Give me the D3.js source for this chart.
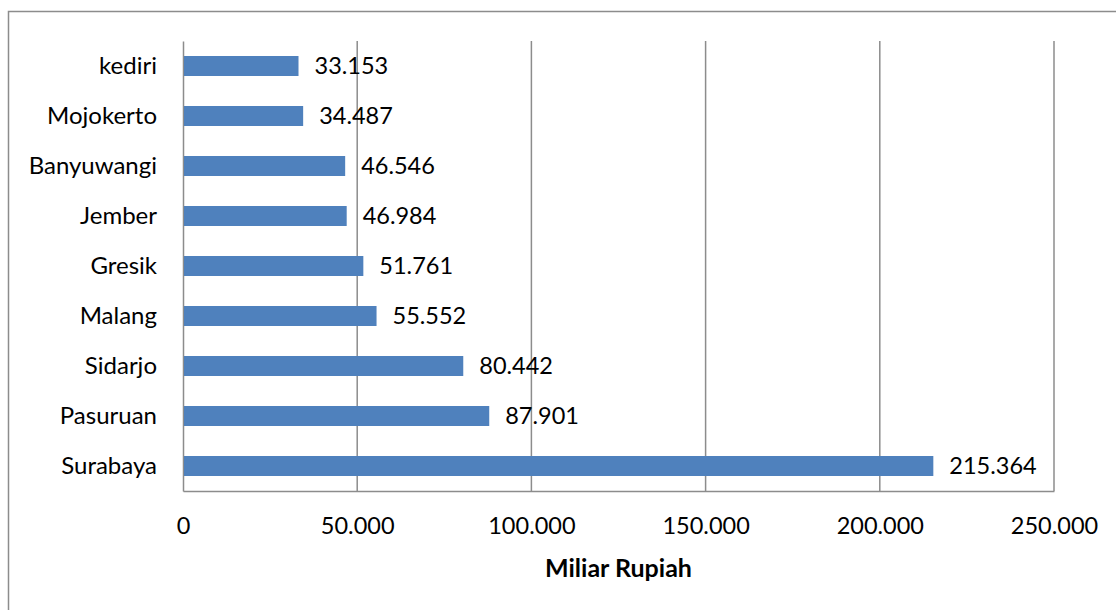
<!DOCTYPE html>
<html>
<head>
<meta charset="utf-8">
<script src="https://cdn.jsdelivr.net/npm/d3@7"></script>
<style>
  body { margin: 0; background: #fff; }
  text { font-family: Lato, "Open Sans", sans-serif; fill: #000; }
</style>
</head>
<body>
<div id="chart"></div>
<script>
// data
var cities = ["kediri", "Mojokerto", "Banyuwangi", "Jember", "Gresik", "Malang", "Sidarjo", "Pasuruan", "Surabaya"];
var values = [33153, 34487, 46546, 46984, 51761, 55552, 80442, 87901, 215364];
var tickValues = [0, 50000, 100000, 150000, 200000, 250000];
var tickLabels = ["0", "50.000", "100.000", "150.000", "200.000", "250.000"];

var W = 1116, H = 610;
var margin = {top: 41, left: 183, right: 62, bottom: 119};
var width = W - margin.left - margin.right,
    height = H - margin.top - margin.bottom;

var svg = d3.select("#chart")
  .append("svg")
    .attr("width", W)
    .attr("height", H);

// outer frame of the chart object
svg.append("rect")
  .attr("x", 8.5).attr("y", 11.5)
  .attr("width", W + 10).attr("height", H + 10)
  .attr("fill", "none")
  .attr("stroke", "#8c8c8c")
  .attr("stroke-width", 1.5);

var g = svg.append("g")
  .attr("transform", "translate(" + margin.left + "," + margin.top + ")");

var x = d3.scaleLinear()
  .domain([0, 250000])
  .range([0, width]);

var y = d3.scaleBand()
  .domain(cities)
  .range([0, height])
  .paddingInner(0.6)
  .paddingOuter(0.3);

// vertical gridlines
g.append("g")
  .selectAll("line")
  .data(tickValues.slice(1))
  .enter()
  .append("line")
    .attr("x1", function(d) { return x(d); })
    .attr("x2", function(d) { return x(d); })
    .attr("y1", 0)
    .attr("y2", height)
    .attr("stroke", "#8c8c8c")
    .attr("stroke-width", 1.5);

// x axis
var xAxis = g.append("g")
  .attr("transform", "translate(0," + height + ")")
  .call(d3.axisBottom(x)
    .tickValues(tickValues)
    .tickSize(0)
    .tickPadding(26)
    .tickFormat(function(d, i) { return tickLabels[i]; }));
xAxis.select(".domain").attr("stroke", "#8c8c8c").attr("stroke-width", 1.5);
xAxis.selectAll("text").style("font-size", "23.5px").attr("fill", "#000");

// y axis
var yAxis = g.append("g")
  .call(d3.axisLeft(y).tickSize(0).tickPadding(26));
yAxis.select(".domain").attr("stroke", "#8c8c8c").attr("stroke-width", 1.5);
yAxis.selectAll("text").style("font-size", "24px").attr("fill", "#000");

// bars
g.append("g")
  .selectAll("rect")
  .data(values)
  .enter()
  .append("rect")
    .attr("x", 1)
    .attr("y", function(d, i) { return y(cities[i]); })
    .attr("width", function(d) { return x(d) - 1; })
    .attr("height", y.bandwidth())
    .attr("fill", "#4f81bd");

// value labels
g.append("g")
  .selectAll("text")
  .data(values)
  .enter()
  .append("text")
    .attr("x", function(d) { return x(d) + 16; })
    .attr("y", function(d, i) { return y(cities[i]) + y.bandwidth() / 2; })
    .attr("dy", "0.35em")
    .style("font-size", "23.5px")
    .text(function(d) { return d3.format(",")(d).replace(/,/g, "."); });

// axis title
svg.append("text")
  .attr("x", margin.left + width / 2)
  .attr("y", 577)
  .style("text-anchor", "middle")
  .style("font-size", "25px")
  .style("font-weight", "bold")
  .text("Miliar Rupiah");
</script>
</body>
</html>
